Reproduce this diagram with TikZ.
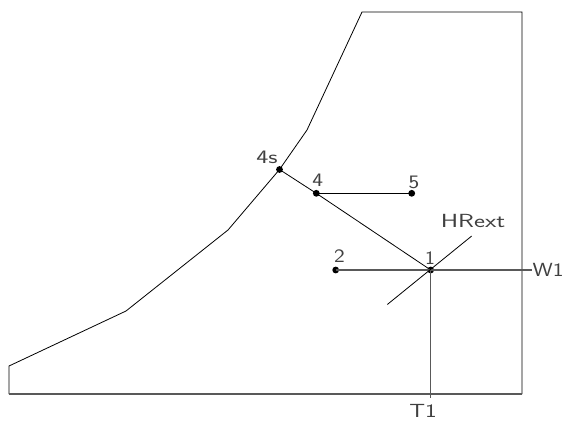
\documentclass[tikz,border=0pt]{standalone}
\usepackage{graphicx}
\begin{document}
\begin{tikzpicture}[x=1pt,y=-1pt,line width=0.8pt,
  lbl/.style={font=\fontsize{19}{19}\selectfont\sffamily,inner sep=0pt,text=black!75},
  dotpt/.style={circle,fill=black,inner sep=0pt,minimum size=6.8pt},
  gline/.style={draw=black!65,line width=1.1pt}]
\useasboundingbox (0,0) rectangle (564,421);
% outline
\coordinate (o1) at (9,394);
\coordinate (o2) at (9,366);
\coordinate (o3) at (126,311);
\coordinate (o4) at (228,230);
\coordinate (o5) at (307,130);
\coordinate (o6) at (362,12);
\coordinate (o7) at (522,12);
\coordinate (o8) at (522,394);
% points
\node[dotpt] (p4s) at (279.5,169.5) {};
\node[dotpt] (p4) at (316.3,193.3) {};
\node[dotpt] (p5) at (411.7,193.3) {};
\node[dotpt] (p2) at (335.7,270) {};
\node[dotpt] (p1) at (430.7,270) {};
\coordinate (w1end) at (531.7,270);
\coordinate (t1end) at (430.7,398);
\coordinate (hra) at (387.3,304.5);
\coordinate (hrb) at (471.7,236);
\draw (o1) -- (o2) -- (o3) -- (o4) -- (p4s.center) -- (o5) -- (o6) -- (o7) -- (o8);
\draw[gline] (o8) -- (o1);
\draw (p4s.center) -- (p4.center) -- (p1.center);
\draw (p4.center) -- (p5.center);
\draw[gline] (p2.center) -- (w1end);
\draw[gline] (p1.center) -- (t1end);
\draw (hra) -- (hrb);
% labels
\node[lbl] (l4s) at (267,157) {\scalebox{1.35}[1]{4s}};
\node[lbl] (l4) at (317.7,180) {\scalebox{1.2}[1]{4}};
\node[lbl] (l5) at (414,182) {\scalebox{1.2}[1]{5}};
\node[lbl] (l2) at (339.5,256.5) {\scalebox{1.2}[1]{2}};
\node[lbl] (l1) at (430,258) {\scalebox{1.1}[1]{1}};
\node[lbl] (lhr) at (473,221) {\scalebox{1.38}[1]{HRext}};
\node[lbl] (lw1) at (548,270) {\scalebox{1.2}[1]{W1}};
\node[lbl] (lt1) at (423,411) {\scalebox{1.3}[1]{T1}};
\end{tikzpicture}
\end{document}
